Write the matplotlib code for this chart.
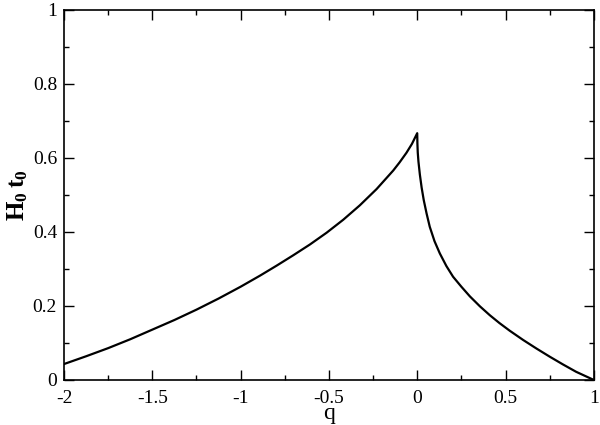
import numpy as np
import matplotlib
matplotlib.use("Agg")
import matplotlib.pyplot as plt
from matplotlib.ticker import MultipleLocator

plt.rcParams['font.family'] = ['Liberation Serif', 'DejaVu Serif']
plt.rcParams['mathtext.fontset'] = 'custom'
plt.rcParams['mathtext.rm'] = 'Liberation Serif'
plt.rcParams['mathtext.bf'] = 'Liberation Serif:bold'

# values, q < 0 branch
q_left = [-2.0, -1.875, -1.75, -1.625, -1.5, -1.375, -1.25, -1.125, -1.0, -0.89,
          -0.796, -0.702, -0.608, -0.513, -0.419, -0.325, -0.23, -0.136, -0.1,
          -0.061, -0.03, 0.0]
h_left = [0.043, 0.064, 0.086, 0.110, 0.136, 0.162, 0.190, 0.220, 0.252, 0.282,
          0.309, 0.337, 0.366, 0.398, 0.433, 0.472, 0.516, 0.566, 0.588,
          0.614, 0.638, 0.667]

# q > 0 branch
q_right = [0.0, 0.001, 0.003, 0.007, 0.015, 0.025, 0.037, 0.053, 0.071, 0.098,
           0.128, 0.165, 0.203, 0.25, 0.298, 0.355, 0.411, 0.465, 0.524, 0.6,
           0.675, 0.75, 0.825, 0.9, 1.0]
h_right = [0.667, 0.640, 0.615, 0.590, 0.555, 0.520, 0.486, 0.450, 0.414, 0.375,
           0.342, 0.308, 0.279, 0.252, 0.226, 0.199, 0.175, 0.154, 0.133, 0.108,
           0.085, 0.063, 0.042, 0.022, 0.0]

q = q_left + q_right[1:]
h = h_left + h_right[1:]

fig = plt.figure(figsize=(6, 4.25), dpi=100)
ax = fig.add_axes([0.1067, 0.106, 0.883, 0.8705])

ax.plot(q, h, color='black', linewidth=1.6, solid_joinstyle='round')

ax.set_xlim(-2, 1)
ax.set_ylim(0, 1)
ax.xaxis.set_minor_locator(MultipleLocator(0.25))
ax.yaxis.set_minor_locator(MultipleLocator(0.1))
ax.set_xticks([-2, -1.5, -1, -0.5, 0, 0.5, 1])
ax.set_xticklabels(['-2', '-1.5', '-1', '-0.5', '0', '0.5', '1'])
ax.set_yticks([0, 0.2, 0.4, 0.6, 0.8, 1])
ax.set_yticklabels(['0', '0.2', '0.4', '0.6', '0.8', '1'])

ax.tick_params(which='both', direction='in', top=True, right=True, labelsize=14, width=1)
ax.tick_params(which='major', length=7)
ax.tick_params(which='minor', length=3.5)
ax.tick_params(axis='x', pad=7)
ax.tick_params(axis='y', pad=5)
for s in ax.spines.values():
    s.set_linewidth(1.2)

ax.set_xlabel('q', fontsize=17, labelpad=-3)
ax.set_ylabel(r'$\mathbf{H_0\,t_0}$', fontsize=18, labelpad=2)

fig.savefig('out.png', dpi=100)
